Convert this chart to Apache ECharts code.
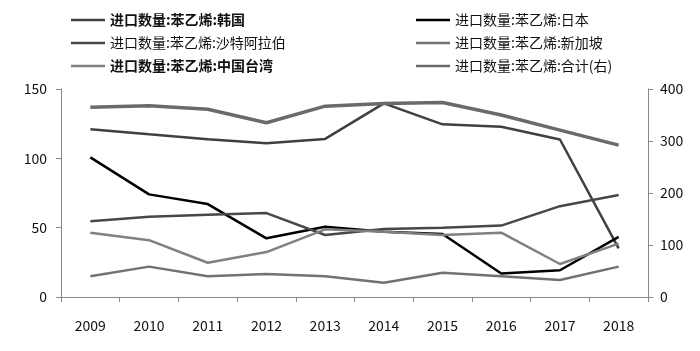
<!DOCTYPE html>
<html>
<head>
<meta charset="utf-8">
<script src="https://cdn.jsdelivr.net/npm/echarts@6/dist/echarts.min.js"></script>
<style>
html, body { margin: 0; padding: 0; background: #fff; }
#main { width: 700px; height: 351px; }
</style>
</head>
<body>
<div id="main"></div>
<script>
var years = ['2009', '2010', '2011', '2012', '2013', '2014', '2015', '2016', '2017', '2018'];
var korea = [121, 117.3, 113.7, 110.8, 114, 139.6, 124.5, 122.8, 113.6, 35];
var japan = [100.7, 74, 67, 42.3, 50.7, 47, 45.4, 17, 19.3, 43.4];
var saudi = [54.6, 57.9, 59.3, 60.5, 44.7, 49, 50, 51.5, 65.5, 73.5];
var singapore = [15, 21.9, 15, 16.6, 15, 10.3, 17.5, 15, 12.3, 21.9];
var taiwan = [46.4, 41, 24.7, 32.4, 48.8, 47, 44.7, 46.4, 23.8, 38.5];
var total = [365, 368, 361, 335, 367, 372, 374, 350, 321, 292];

var names = [
    '进口数量:苯乙烯:韩国',
    '进口数量:苯乙烯:日本',
    '进口数量:苯乙烯:沙特阿拉伯',
    '进口数量:苯乙烯:新加坡',
    '进口数量:苯乙烯:中国台湾',
    '进口数量:苯乙烯:合计(右)'
];

var font = '"Noto Sans CJK SC", "Noto Sans", sans-serif';
var myChart = echarts.init(document.getElementById('main'));

function line(name, data, color, width, yIndex) {
    return {
        name: name,
        type: 'line',
        yAxisIndex: yIndex || 0,
        symbol: 'none',
        data: data,
        color: color,
        lineStyle: { color: color, width: width }
    };
}

var legendBase = {
    orient: 'vertical',
    top: 8,
    icon: 'rect',
    itemWidth: 34,
    itemHeight: 2.5,
    itemGap: 9,
    textStyle: { fontFamily: font, fontSize: 14, color: '#111' }
};

myChart.setOption({
    animation: false,
    legend: [
        Object.assign({}, legendBase, {
            left: 66,
            data: [
                { name: names[0], textStyle: { fontWeight: 'bold' } },
                names[2],
                { name: names[4], textStyle: { fontWeight: 'bold' } }
            ]
        }),
        Object.assign({}, legendBase, {
            left: 411,
            data: [names[1], names[3], names[5]]
        })
    ],
    grid: { left: 61, right: 52, top: 89, bottom: 54 },
    xAxis: {
        type: 'category',
        data: years,
        boundaryGap: true,
        axisLine: { lineStyle: { color: '#888' } },
        axisTick: { show: true, length: 5, lineStyle: { color: '#888' } },
        axisLabel: { margin: 22, fontFamily: font, fontSize: 14, color: '#111' }
    },
    yAxis: [{
        type: 'value',
        min: 0,
        max: 150,
        interval: 50,
        splitLine: { show: false },
        axisLine: { show: true, lineStyle: { color: '#888' } },
        axisTick: { show: true, length: 5, lineStyle: { color: '#888' } },
        axisLabel: { margin: 14, fontFamily: font, fontSize: 14, color: '#111' }
    }, {
        type: 'value',
        min: 0,
        max: 400,
        interval: 100,
        splitLine: { show: false },
        axisLine: { show: true, lineStyle: { color: '#888' } },
        axisTick: { show: true, length: 5, lineStyle: { color: '#888' } },
        axisLabel: { margin: 12, fontFamily: font, fontSize: 14, color: '#111' }
    }],
    series: [
        line(names[0], korea, '#404040', 2.5),
        line(names[1], japan, '#000000', 2.5),
        line(names[2], saudi, '#474747', 2.5),
        line(names[3], singapore, '#727272', 2.5),
        line(names[4], taiwan, '#808080', 2.5),
        line(names[5], total, '#6a6a6a', 3.5, 1)
    ]
});
</script>
</body>
</html>
